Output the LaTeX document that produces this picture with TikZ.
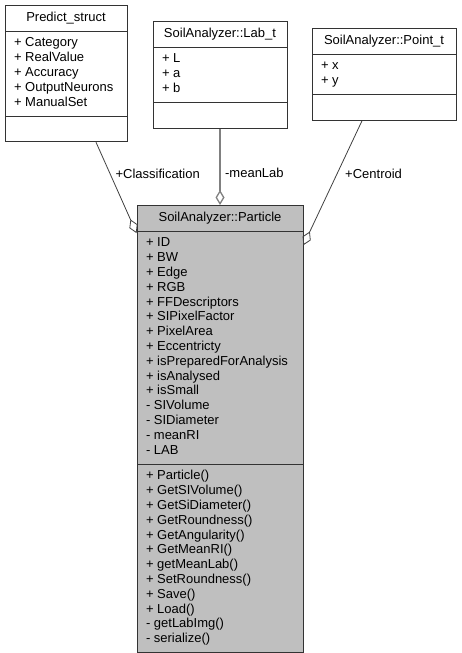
\documentclass[tikz,border=0pt]{standalone}
\usepackage{fontspec}
\setmainfont{Liberation Sans}
\usetikzlibrary{shapes.multipart,arrows.meta}
\newcommand{\membres}[1]{\begin{tabular}{@{}l@{}}#1\end{tabular}}
\begin{document}
\begin{tikzpicture}[x=1pt,y=-1pt]
	\tikzstyle{classe}=[rectangle split,rectangle split parts=3,rectangle split part align={center,left,left},draw=black!80,line width=0.9pt,anchor=north,inner xsep=9pt,inner ysep=5pt,font=\fontsize{13}{14.8}\selectfont]
	\tikzstyle{principale}=[classe,fill=black!25]
	\tikzstyle{public}=[-{Diamond[open,length=15pt,width=9pt]},draw=black!75,line width=0.8pt]
	\tikzstyle{prive}=[-{Diamond[open,length=15pt,width=9pt]},draw=black!50,line width=1.3pt]
	\tikzstyle{role}=[anchor=west,inner sep=0pt,font=\fontsize{13}{14.8}\selectfont]
	\useasboundingbox (0,0) rectangle (461,653);
	%
	\node[classe,minimum width=122pt] (Predict) at (66,5) {\membres{Predict\_struct}
		\nodepart{second}\membres{+ Category\\+ RealValue\\+ Accuracy\\+ OutputNeurons\\+ ManualSet}
		\nodepart{third}\strut};
	\node[classe,minimum width=134pt] (Lab) at (220,21) {\membres{SoilAnalyzer::Lab\_t}
		\nodepart{second}\membres{+ L\\+ a\\+ b}
		\nodepart{third}\strut};
	\node[classe,minimum width=144pt] (Point) at (384,28) {\membres{SoilAnalyzer::Point\_t}
		\nodepart{second}\membres{+ x\\+ y}
		\nodepart{third}\strut};
	\node[principale,minimum width=166pt] (Particle) at (220,205) {\membres{SoilAnalyzer::Particle}
		\nodepart{second}\membres{+ ID\\+ BW\\+ Edge\\+ RGB\\+ FFDescriptors\\+ SIPixelFactor\\+ PixelArea\\+ Eccentricty\\+ isPreparedForAnalysis\\+ isAnalysed\\+ isSmall\\- SIVolume\\- SIDiameter\\- meanRI\\- LAB}
		\nodepart{third}\membres{+ Particle()\\+ GetSIVolume()\\+ GetSiDiameter()\\+ GetRoundness()\\+ GetAngularity()\\+ GetMeanRI()\\+ getMeanLab()\\+ SetRoundness()\\+ Save()\\+ Load()\\- getLabImg()\\- serialize()}};
	%
	\draw[public] ([xshift=30pt]Predict.south)--([yshift=-2pt]Particle.text split west) node[role,pos=0.35,xshift=5pt] (rClassif) {+Classification};
	\draw[prive] (Lab.south)--(Particle.north) node[role,pos=0.58,xshift=4.5pt] (rMeanLab) {-meanLab};
	\draw[public] ([xshift=-22pt]Point.south)--([yshift=-14pt]Particle.text split east) node[role,pos=0.43,xshift=8pt] (rCentroid) {+Centroid};
\end{tikzpicture}
\end{document}
